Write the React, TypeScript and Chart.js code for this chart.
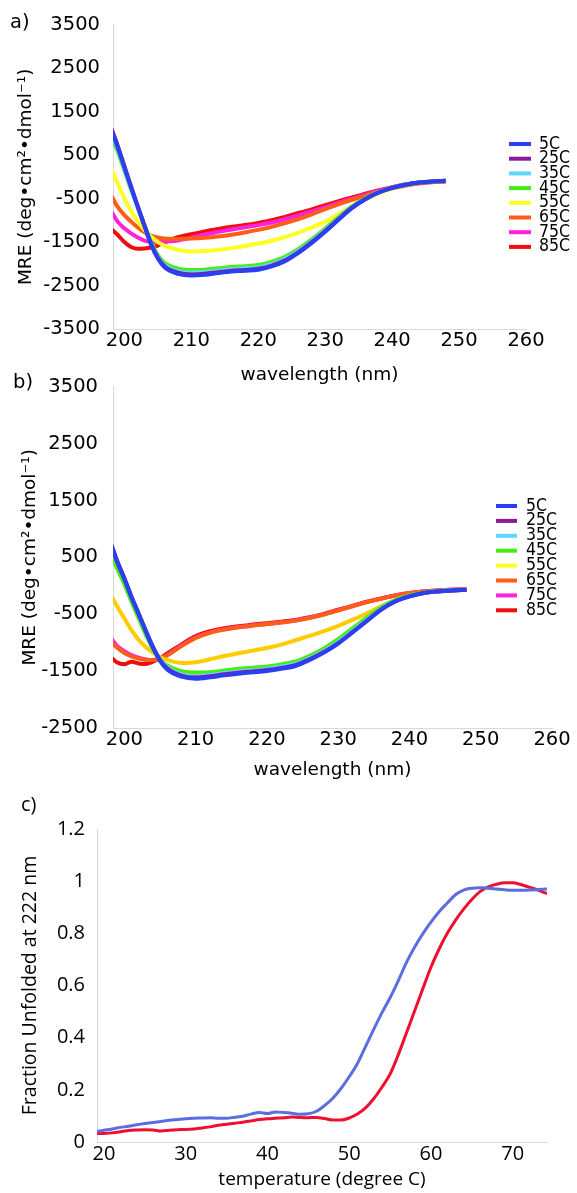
import React, { useEffect, useRef } from 'react';
import { Chart, registerables } from 'chart.js';

Chart.register(...registerables);

// ---------- data ----------
const WAVELENGTH = [198, 199, 200, 201, 202, 203, 204, 205, 206, 208, 210, 212, 214, 216, 218, 220, 222, 224, 226, 228, 230, 232, 234, 236, 238, 240, 242, 244, 246, 248];
const SERIES_LABELS = ['5C', '25C', '35C', '45C', '55C', '65C', '75C', '85C'];

// panel a) MRE values
const A_5C = [1090, 680, 220, -240, -690, -1130, -1560, -1880, -2080, -2230, -2270, -2255, -2215, -2180, -2160, -2135, -2060, -1940, -1750, -1520, -1265, -985, -720, -515, -360, -255, -180, -132, -108, -92];
const A_25C = [1140, 720, 250, -220, -680, -1120, -1545, -1860, -2055, -2205, -2245, -2230, -2195, -2160, -2140, -2115, -2040, -1920, -1730, -1500, -1245, -970, -710, -510, -358, -254, -180, -132, -108, -92];
const A_35C = [1040, 640, 190, -260, -700, -1120, -1530, -1840, -2030, -2170, -2200, -2190, -2160, -2125, -2105, -2080, -2005, -1885, -1700, -1475, -1225, -955, -700, -505, -355, -252, -179, -131, -107, -91];
const A_45C = [960, 580, 150, -290, -700, -1110, -1500, -1800, -1980, -2110, -2140, -2135, -2105, -2075, -2055, -2025, -1955, -1840, -1660, -1440, -1190, -925, -680, -495, -350, -250, -178, -130, -106, -90];
const A_55C = [200, -150, -500, -790, -1015, -1220, -1375, -1500, -1580, -1680, -1715, -1705, -1680, -1640, -1590, -1535, -1470, -1385, -1285, -1165, -1030, -860, -690, -520, -375, -268, -185, -135, -108, -92];
const A_65C = [-420, -690, -880, -1030, -1165, -1275, -1350, -1395, -1420, -1428, -1420, -1400, -1370, -1330, -1280, -1220, -1150, -1065, -970, -862, -740, -633, -527, -435, -344, -267, -199, -153, -122, -100];
const A_75C = [-790, -1030, -1185, -1300, -1395, -1465, -1495, -1503, -1490, -1465, -1400, -1325, -1265, -1210, -1160, -1110, -1050, -975, -885, -795, -695, -595, -500, -408, -320, -246, -182, -140, -115, -100];
const A_85C = [-1190, -1335, -1500, -1615, -1655, -1648, -1625, -1580, -1510, -1390, -1320, -1255, -1200, -1150, -1110, -1060, -1000, -920, -832, -748, -649, -557, -473, -390, -306, -237, -176, -138, -115, -100];

// panel b) MRE values
const B_5C = [760, 413, 119, -205, -500, -800, -1087, -1320, -1469, -1598, -1633, -1610, -1575, -1545, -1522, -1498, -1460, -1410, -1304, -1175, -1016, -822, -622, -422, -275, -187, -128, -99, -81, -69];
const B_25C = [780, 430, 130, -195, -490, -790, -1075, -1305, -1450, -1578, -1612, -1590, -1555, -1527, -1505, -1482, -1445, -1395, -1292, -1165, -1008, -815, -617, -420, -274, -186, -128, -99, -81, -69];
const B_35C = [800, 440, 140, -185, -480, -780, -1065, -1290, -1430, -1555, -1585, -1565, -1535, -1505, -1485, -1460, -1420, -1370, -1270, -1140, -985, -795, -600, -410, -268, -182, -126, -98, -80, -69];
const B_45C = [600, 300, 30, -280, -570, -860, -1110, -1300, -1400, -1500, -1525, -1520, -1490, -1460, -1440, -1420, -1381, -1330, -1230, -1100, -940, -750, -560, -380, -250, -170, -120, -95, -80, -70];
const B_55C = [-150, -363, -575, -781, -951, -1075, -1175, -1251, -1304, -1357, -1345, -1292, -1234, -1187, -1140, -1093, -1035, -957, -881, -798, -704, -599, -487, -363, -252, -175, -128, -99, -81, -69];
const B_65C = [-960, -1090, -1180, -1240, -1280, -1300, -1305, -1282, -1225, -1060, -915, -825, -770, -730, -700, -673, -645, -612, -564, -504, -432, -360, -288, -228, -173, -131, -101, -82, -70, -65];
const B_75C = [-900, -1060, -1150, -1220, -1265, -1295, -1305, -1280, -1215, -1050, -905, -818, -764, -725, -696, -670, -642, -610, -562, -502, -430, -358, -286, -226, -172, -130, -100, -82, -70, -65];
const B_85C = [-1240, -1350, -1378, -1335, -1365, -1375, -1335, -1275, -1190, -1030, -885, -800, -748, -710, -682, -657, -630, -600, -552, -493, -422, -352, -281, -222, -169, -128, -99, -81, -69, -64];

// panel c) fraction unfolded at 222 nm
const TEMPERATURE = [19, 20, 21, 22, 23, 24, 25, 26, 27, 28, 29, 30, 31, 32, 33, 34, 35, 36, 37, 38, 39, 40, 41, 42, 43, 44, 45, 46, 47, 48, 49, 50, 51, 52, 53, 54, 55, 56, 57, 58, 59, 60, 61, 62, 63, 64, 65, 66, 67, 68, 69, 70, 71, 72, 73, 74, 74.5];
const C_BLUE = [0.040, 0.045, 0.050, 0.056, 0.060, 0.066, 0.071, 0.075, 0.079, 0.083, 0.086, 0.089, 0.091, 0.092, 0.093, 0.091, 0.091, 0.095, 0.099, 0.107, 0.113, 0.109, 0.115, 0.113, 0.110, 0.106, 0.108, 0.118, 0.140, 0.168, 0.205, 0.250, 0.300, 0.366, 0.432, 0.495, 0.553, 0.618, 0.688, 0.747, 0.798, 0.843, 0.883, 0.916, 0.948, 0.966, 0.973, 0.975, 0.973, 0.970, 0.967, 0.965, 0.965, 0.966, 0.967, 0.970, 0.971];
const C_RED = [0.032, 0.033, 0.035, 0.039, 0.044, 0.046, 0.047, 0.046, 0.042, 0.045, 0.047, 0.048, 0.050, 0.054, 0.058, 0.064, 0.068, 0.072, 0.076, 0.081, 0.086, 0.089, 0.091, 0.093, 0.096, 0.094, 0.093, 0.094, 0.090, 0.084, 0.084, 0.092, 0.107, 0.131, 0.166, 0.210, 0.260, 0.334, 0.418, 0.502, 0.587, 0.670, 0.740, 0.800, 0.850, 0.893, 0.930, 0.960, 0.978, 0.988, 0.994, 0.994, 0.987, 0.977, 0.967, 0.955, 0.950];

// ticks
const WL_TICKS = [200, 210, 220, 230, 240, 250, 260];
const MRE_TICKS_A = [-3500, -2500, -1500, -500, 500, 1500, 2500, 3500];
const MRE_TICKS_B = [-2500, -1500, -500, 500, 1500, 2500, 3500];
const TEMP_TICKS = [20, 30, 40, 50, 60, 70];
const FRACTION_TICKS = [0, 0.2, 0.4, 0.6, 0.8, 1, 1.2];

// ---------- styles ----------
const COLORS_A = ['#2b3ff2', '#8a1a9a', '#5fd6ff', '#44ee11', '#ffff22', '#ff5c16', '#ff22dc', '#ee0e0e'];
const COLORS_B = ['#2b3ff2', '#8a1a9a', '#5fd6ff', '#44ee11', '#ffcc00', '#ff5c16', '#ff22dc', '#ee0e0e'];
const LEGEND_COLORS_B = ['#2b3ff2', '#8a1a9a', '#5fd6ff', '#44ee11', '#ffff22', '#ff5c16', '#ff22dc', '#ee0e0e'];
const C_COLORS = ['#5b6ee0', '#ee1030'];

const SPEC_FONT = 'DejaVu Sans';
const C_FONT = 'Open Sans';
const AXIS_GRAY = '#d9d9d9';

const miniLegend = {
  id: 'miniLegend',
  afterDraw(chart: any, _args: any, opts: any) {
    if (!opts || !opts.show) return;
    const ctx = chart.ctx;
    ctx.save();
    chart.data.datasets.forEach((ds: any, i: number) => {
      const y = opts.y + i * opts.step;
      ctx.strokeStyle = (opts.colors && opts.colors[i]) || ds.borderColor;
      ctx.lineWidth = 4;
      ctx.lineCap = 'butt';
      ctx.beginPath();
      ctx.moveTo(opts.x, y);
      ctx.lineTo(opts.x + opts.len, y);
      ctx.stroke();
      ctx.save();
      ctx.translate(opts.x + opts.len + opts.gap, y);
      ctx.scale(opts.squeeze, 1);
      ctx.font = `${opts.size}px "${SPEC_FONT}"`;
      ctx.fillStyle = '#000';
      ctx.textBaseline = 'middle';
      ctx.textAlign = 'left';
      ctx.fillText(ds.label, 0, 0);
      ctx.restore();
    });
    ctx.restore();
  },
};

type SpecParams = {
  series: number[][];
  lineColors: string[];
  legendColors: string[];
  yMin: number;
  yMax: number;
  yTicks: number[];
  xMin: number;
  padTop: number;
  padRight: number;
  xAxisHeight: number;
  xTitlePad: number;
  yTickPad: number;
  yTitlePad: number;
  legendX: number;
  legendY: number;
  legendStep: number;
  legendLen: number;
  legendGap: number;
};

function spectrumConfig(p: SpecParams): any {
  return {
    type: 'line',
    data: {
      datasets: p.series.map((s, i) => ({
        label: SERIES_LABELS[i],
        data: WAVELENGTH.map((x, j) => ({ x, y: s[j] })),
        borderColor: p.lineColors[i],
        backgroundColor: p.lineColors[i],
        borderWidth: 4,
        pointRadius: 0,
        cubicInterpolationMode: 'monotone',
        fill: false,
      })),
    },
    options: {
      animation: false,
      responsive: false,
      maintainAspectRatio: false,
      events: [],
      layout: { padding: { left: 0, top: p.padTop, right: p.padRight, bottom: 0 } },
      plugins: {
        legend: { display: false },
        tooltip: { enabled: false },
        miniLegend: {
          show: true,
          x: p.legendX,
          y: p.legendY,
          step: p.legendStep,
          len: p.legendLen,
          gap: p.legendGap,
          size: 17.5,
          squeeze: 0.9,
          colors: p.legendColors,
        },
      },
      scales: {
        x: {
          type: 'linear',
          min: p.xMin,
          max: 260,
          afterBuildTicks: (s: any) => {
            s.ticks = WL_TICKS.map((v) => ({ value: v }));
          },
          afterFit: (s: any) => {
            s.height = p.xAxisHeight;
          },
          grid: { display: true, color: 'rgba(0,0,0,0)', drawTicks: false },
          border: { display: true, color: AXIS_GRAY, width: 1 },
          ticks: {
            padding: 0,
            color: '#000',
            autoSkip: false,
            maxRotation: 0,
            font: { family: SPEC_FONT, size: 19.5, lineHeight: 1.2 },
            callback: (v: any) => String(v),
          },
          title: {
            display: true,
            text: 'wavelength (nm)',
            color: '#000',
            font: { family: SPEC_FONT, size: 18.5, lineHeight: 1.2 },
            padding: { top: 0, bottom: p.xTitlePad },
          },
        },
        y: {
          type: 'linear',
          min: p.yMin,
          max: p.yMax,
          afterBuildTicks: (s: any) => {
            s.ticks = p.yTicks.map((v) => ({ value: v }));
          },
          afterFit: (s: any) => {
            s.width = 113;
          },
          grid: { display: true, color: 'rgba(0,0,0,0)', drawTicks: false },
          border: { display: true, color: AXIS_GRAY, width: 1 },
          ticks: {
            padding: p.yTickPad,
            color: '#000',
            autoSkip: false,
            font: { family: SPEC_FONT, size: 19.5, lineHeight: 1.2 },
            callback: (v: any) => String(v),
          },
          title: {
            display: true,
            text: 'MRE (deg\u2022cm\u00b2\u2022dmol\u207b\u00b9)',
            color: '#000',
            font: { family: SPEC_FONT, size: 18.5, lineHeight: 1.2 },
            padding: { top: p.yTitlePad, bottom: 0 },
          },
        },
      },
    },
    plugins: [miniLegend],
  };
}

// panel a canvas: y 0..390 ; plot 23..329
const configA = () =>
  spectrumConfig({
    series: [A_5C, A_25C, A_35C, A_45C, A_55C, A_65C, A_75C, A_85C],
    lineColors: COLORS_A,
    legendColors: COLORS_A,
    yMin: -3500,
    yMax: 3500,
    yTicks: MRE_TICKS_A,
    xMin: 198.3,
    padTop: 23,
    padRight: 51,
    xAxisHeight: 61,
    xTitlePad: 4,
    yTickPad: 13,
    yTitlePad: 15,
    legendX: 509,
    legendY: 144,
    legendStep: 14.7,
    legendLen: 22,
    legendGap: 8,
  });

// panel b canvas: y 360..786 ; plot 386..728
const configB = () =>
  spectrumConfig({
    series: [B_5C, B_25C, B_35C, B_45C, B_55C, B_65C, B_75C, B_85C],
    lineColors: COLORS_B,
    legendColors: LEGEND_COLORS_B,
    yMin: -2500,
    yMax: 3500,
    yTicks: MRE_TICKS_B,
    xMin: 198.4,
    padTop: 26,
    padRight: 25,
    xAxisHeight: 58,
    xTitlePad: 5,
    yTickPad: 15,
    yTitlePad: 19,
    legendX: 496,
    legendY: 146,
    legendStep: 14.9,
    legendLen: 21,
    legendGap: 9,
  });

// panel c canvas: y 786..1193 ; plot 829..1142
const configC = (): any => ({
  type: 'line',
  data: {
    datasets: [C_BLUE, C_RED].map((s, i) => ({
      label: i === 0 ? 'blue' : 'red',
      data: TEMPERATURE.map((x, j) => ({ x, y: s[j] })),
      borderColor: C_COLORS[i],
      backgroundColor: C_COLORS[i],
      borderWidth: 3,
      pointRadius: 0,
      cubicInterpolationMode: 'monotone',
      fill: false,
    })),
  },
  options: {
    animation: false,
    responsive: false,
    maintainAspectRatio: false,
    events: [],
    layout: { padding: { left: 0, top: 43, right: 30, bottom: 0 } },
    plugins: { legend: { display: false }, tooltip: { enabled: false } },
    scales: {
      x: {
        type: 'linear',
        min: 19.15,
        max: 74.2,
        afterBuildTicks: (s: any) => {
          s.ticks = TEMP_TICKS.map((v) => ({ value: v }));
        },
        afterFit: (s: any) => {
          s.height = 51;
        },
        grid: { display: true, color: 'rgba(0,0,0,0)', drawTicks: false },
        border: { display: true, color: AXIS_GRAY, width: 1 },
        ticks: {
          padding: 0,
          color: '#000',
          autoSkip: false,
          maxRotation: 0,
          font: { family: C_FONT, size: 20, lineHeight: 1.2 },
          callback: (v: any) => String(v),
        },
        title: {
          display: true,
          text: 'temperature (degree C)',
          color: '#000',
          font: { family: C_FONT, size: 19, lineHeight: 1.2 },
          padding: { top: 0, bottom: 1.6 },
        },
      },
      y: {
        type: 'linear',
        min: 0,
        max: 1.2,
        afterBuildTicks: (s: any) => {
          s.ticks = FRACTION_TICKS.map((v) => ({ value: v }));
        },
        afterFit: (s: any) => {
          s.width = 97;
        },
        grid: { display: true, color: 'rgba(0,0,0,0)', drawTicks: false },
        border: { display: true, color: AXIS_GRAY, width: 1 },
        ticks: {
          padding: 12,
          color: '#000',
          autoSkip: false,
          font: { family: C_FONT, size: 20, lineHeight: 1.2 },
          callback: (v: any) => String(v),
        },
        title: {
          display: true,
          text: 'Fraction Unfolded at 222 nm',
          color: '#000',
          font: { family: C_FONT, size: 19.5, lineHeight: 1.2 },
          padding: { top: 18.3, bottom: 0 },
        },
      },
    },
  },
});

type PanelProps = { top: number; height: number; makeConfig: () => any };

function ChartPanel({ top, height, makeConfig }: PanelProps) {
  const ref = useRef<HTMLCanvasElement | null>(null);
  useEffect(() => {
    if (!ref.current) return;
    const chart = new Chart(ref.current, makeConfig());
    return () => chart.destroy();
  }, [makeConfig]);
  return (
    <canvas
      ref={ref}
      width={577}
      height={height}
      style={{ position: 'absolute', left: 0, top, width: 577, height, display: 'block' }}
    />
  );
}

const panelLabel = (left: number, top: number, family: string, size: number): React.CSSProperties => ({
  position: 'absolute',
  left,
  top,
  fontFamily: family,
  fontSize: size,
  lineHeight: 1,
  color: '#000',
  margin: 0,
  whiteSpace: 'nowrap',
});

export default function App() {
  return (
    <div
      style={{
        position: 'absolute',
        left: 0,
        top: 0,
        width: 577,
        height: 1193,
        background: '#fff',
        overflow: 'hidden',
      }}
    >
      <ChartPanel top={0} height={390} makeConfig={configA} />
      <ChartPanel top={360} height={426} makeConfig={configB} />
      <ChartPanel top={786} height={407} makeConfig={configC} />
      <div style={panelLabel(10, 12, SPEC_FONT, 19.5)}>a)</div>
      <div style={panelLabel(13, 372, SPEC_FONT, 19.5)}>b)</div>
      <div style={panelLabel(21, 794, C_FONT, 20)}>c)</div>
    </div>
  );
}
